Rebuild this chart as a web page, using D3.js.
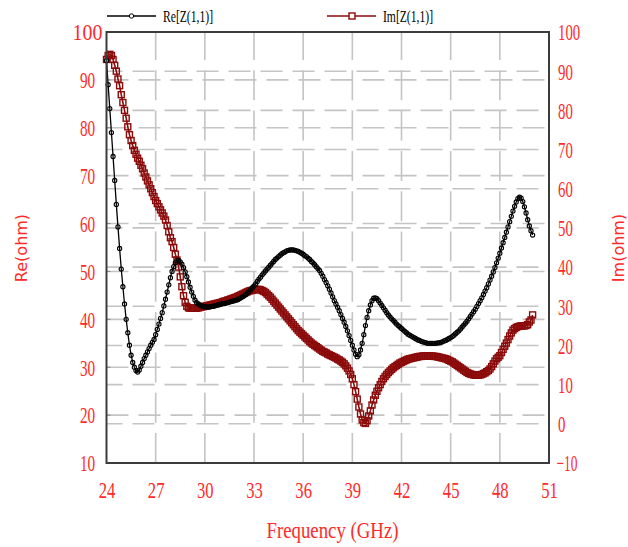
<!DOCTYPE html>
<html>
<head>
<meta charset="utf-8">
<script src="https://cdn.jsdelivr.net/npm/d3@7/dist/d3.min.js"></script>
<style>
  html, body { margin: 0; padding: 0; background: #fff; }
  svg { display: block; }
</style>
</head>
<body>
<svg id="chart" width="628" height="547"></svg>
<script>
// Sweep: 24.0 GHz to 50.0 GHz in 0.1 GHz steps
const freqStart = 24.0;
const freqStep = 0.1;

// Re[Z(1,1)] in ohm (left axis)
const reZ = [
  94, 89, 84, 79, 74, 69, 64, 59.3, 54.8, 50.5,
  46.8, 43.2, 40.0, 37.2, 34.6, 32.5, 31.0, 30.0, 29.3, 29.0,
  29.4, 30.2, 31.0, 31.8, 32.5, 33.2, 33.9, 34.6, 35.2, 35.8,
  36.8, 37.9, 39.0, 40.2, 41.4, 42.8, 44.2, 45.7, 47.2, 48.7,
  50.0, 51.0, 51.8, 52.3, 52.3, 52.0, 51.5, 50.8, 49.9, 48.9,
  47.8, 46.7, 45.7, 44.8, 44.0, 43.5, 43.2, 43.0, 42.8, 42.7,
  42.6, 42.6, 42.6, 42.6, 42.7, 42.7, 42.8, 42.9, 43.0, 43.1,
  43.2, 43.3, 43.3, 43.4, 43.5, 43.6, 43.7, 43.8, 43.9, 44.0,
  44.1, 44.3, 44.5, 44.7, 44.9, 45.2, 45.5, 45.8, 46.2, 46.6,
  47.0, 47.4, 47.9, 48.4, 48.8, 49.3, 49.7, 50.1, 50.5, 50.9,
  51.3, 51.7, 52.1, 52.5, 52.8, 53.1, 53.4, 53.7, 53.9, 54.1,
  54.3, 54.4, 54.5, 54.5, 54.5, 54.4, 54.3, 54.2, 54.0, 53.8,
  53.6, 53.3, 53.1, 52.8, 52.5, 52.1, 51.8, 51.4, 51.0, 50.6,
  50.2, 49.6, 49.0, 48.3, 47.7, 47.0, 46.3, 45.5, 44.7, 43.9,
  43.2, 42.5, 41.8, 41.0, 40.2, 39.4, 38.5, 37.6, 36.6, 35.6,
  34.6, 33.6, 32.7, 32.2, 32.6, 33.6, 35.0, 36.8, 38.7, 40.4,
  41.8, 43.0, 43.9, 44.4, 44.5, 44.3, 43.9, 43.4, 42.9, 42.4,
  41.9, 41.4, 40.9, 40.5, 40.1, 39.8, 39.4, 39.0, 38.7, 38.4,
  38.1, 37.8, 37.5, 37.2, 36.9, 36.7, 36.5, 36.3, 36.1, 35.9,
  35.7, 35.6, 35.4, 35.3, 35.2, 35.1, 35.0, 35.0, 35.0, 35.0,
  35.0, 35.0, 35.1, 35.1, 35.2, 35.3, 35.5, 35.6, 35.8, 36.0,
  36.2, 36.4, 36.7, 37.0, 37.3, 37.6, 38.0, 38.4, 38.8, 39.2,
  39.6, 40.1, 40.6, 41.1, 41.6, 42.1, 42.7, 43.3, 43.9, 44.5,
  45.2, 45.9, 46.6, 47.4, 48.2, 49.0, 49.9, 50.8, 51.8, 52.8,
  53.8, 54.9, 56.0, 57.1, 58.2, 59.3, 60.4, 61.5, 62.6, 63.6,
  64.5, 65.2, 65.5, 65.3, 64.6, 63.5, 62.2, 60.8, 59.5, 58.5,
  57.6
];

// Im[Z(1,1)] in ohm (right axis)
const imZ = [
  93.0, 94.0, 94.3, 94.0, 93.0, 91.5, 90.0, 88.0, 86.3, 84.0,
  82.0, 80.0, 78.0, 75.8, 73.8, 72.3, 71.0, 69.8, 68.8, 67.8,
  67.0, 66.0, 65.1, 64.0, 63.0, 62.0, 61.0, 60.0, 59.0, 58.0,
  57.0, 56.2, 55.4, 54.6, 53.8, 53.0, 52.0, 50.6, 49.0, 47.5,
  46.5, 45.0, 43.3, 41.8, 40.0, 37.5, 35.0, 32.7, 31.0, 30.0,
  29.6, 29.5, 29.5, 29.5, 29.5, 29.5, 29.6, 29.7, 29.8, 29.9,
  30.0, 30.1, 30.2, 30.3, 30.4, 30.5, 30.6, 30.7, 30.8, 30.9,
  31.0, 31.2, 31.3, 31.4, 31.6, 31.7, 31.9, 32.0, 32.2, 32.3,
  32.5, 32.7, 32.9, 33.1, 33.3, 33.5, 33.7, 33.9, 34.0, 34.1,
  34.2, 34.3, 34.3, 34.3, 34.2, 34.0, 33.8, 33.5, 33.1, 32.7,
  32.3, 31.8, 31.3, 30.8, 30.3, 29.8, 29.3, 28.8, 28.3, 27.8,
  27.3, 26.8, 26.3, 25.8, 25.3, 24.8, 24.3, 23.8, 23.4, 23.0,
  22.6, 22.2, 21.8, 21.4, 21.0, 20.6, 20.3, 20.0, 19.7, 19.4,
  19.1, 18.8, 18.5, 18.3, 18.1, 17.8, 17.6, 17.4, 17.2, 17.0,
  16.8, 16.5, 16.3, 16.0, 15.7, 15.3, 14.8, 14.2, 13.5, 12.6,
  11.5, 10.0, 8.2, 6.3, 4.3, 2.5, 1.0, 0.3, 0.1, 0.8,
  2.0, 3.3, 4.8, 6.1, 7.3, 8.3, 9.2, 10.0, 10.8, 11.5,
  12.1, 12.6, 13.1, 13.5, 13.9, 14.3, 14.6, 14.9, 15.2, 15.5,
  15.7, 15.9, 16.1, 16.3, 16.5, 16.6, 16.7, 16.8, 16.9, 17.0,
  17.1, 17.2, 17.2, 17.3, 17.3, 17.3, 17.3, 17.3, 17.3, 17.3,
  17.2, 17.2, 17.1, 17.0, 16.9, 16.8, 16.7, 16.6, 16.4, 16.2,
  16.0, 15.8, 15.5, 15.2, 14.9, 14.6, 14.3, 14.0, 13.7, 13.4,
  13.1, 12.9, 12.7, 12.6, 12.5, 12.4, 12.4, 12.4, 12.5, 12.6,
  12.8, 13.0, 13.3, 13.6, 14.0, 14.6, 15.3, 16.0, 16.6, 17.0,
  17.4, 18.2, 19.0, 19.8, 20.6, 21.5, 22.4, 23.2, 23.9, 24.3,
  24.6, 24.8, 24.9, 25.0, 25.0, 25.0, 25.1, 25.3, 26.0, 26.5,
  27.8
];

// Axis ticks
const freqTicks = [24, 27, 30, 33, 36, 39, 42, 45, 48, 51];
const leftTicks = [10, 20, 30, 40, 50, 60, 70, 80, 90, 100];
const rightTicks = [-10, 0, 10, 20, 30, 40, 50, 60, 70, 80, 90, 100];

const seriesNames = ["Re[Z(1,1)]", "Im[Z(1,1)]"];

const labelRed = "#ff2a2a";
const imColor = "#8b0a0a";
const gridColor = "#c4c4c4";

const svg = d3.select("#chart");
const plot = { left: 106.5, right: 549, top: 32, bottom: 463 };

const x = d3.scaleLinear().domain([24, 51]).range([plot.left, plot.right]);
const yL = d3.scaleLinear().domain([10, 100]).range([plot.bottom, plot.top]);
const yR = d3.scaleLinear().domain([-10, 100]).range([plot.bottom, plot.top]);

const freqs = reZ.map((_, i) => +(freqStart + i * freqStep).toFixed(1));
const reData = freqs.map((f, i) => ({ f, v: reZ[i] }));
const imData = freqs.map((f, i) => ({ f, v: imZ[i] }));

// grid: vertical dashed lines
const grid = svg.append("g").attr("class", "grid")
  .attr("stroke", gridColor).attr("stroke-width", 1.6).attr("fill", "none");

grid.selectAll("line.v")
  .data(freqTicks.slice(1, -1))
  .join("line")
  .attr("x1", d => x(d)).attr("x2", d => x(d))
  .attr("y1", plot.top).attr("y2", plot.bottom)
  .attr("stroke-dasharray", "30,10.3")
  .attr("stroke-dashoffset", 2);

// horizontal dashed lines for the left scale
grid.selectAll("line.hl")
  .data(leftTicks.slice(1, -1))
  .join("line")
  .attr("x1", plot.left).attr("x2", plot.right)
  .attr("y1", d => yL(d)).attr("y2", d => yL(d))
  .attr("stroke-dasharray", "22,10");

// horizontal dashed lines for the right scale
grid.selectAll("line.hr")
  .data(rightTicks.slice(1, -1))
  .join("line")
  .attr("x1", plot.left).attr("x2", plot.right)
  .attr("y1", d => yR(d)).attr("y2", d => yR(d))
  .attr("stroke-dasharray", "22,10")
  .attr("stroke-dashoffset", 6);

// small inner ticks on the left frame
svg.append("g").selectAll("line")
  .data(leftTicks.slice(1, -1))
  .join("line")
  .attr("x1", plot.left).attr("x2", plot.left + 4)
  .attr("y1", d => yL(d)).attr("y2", d => yL(d))
  .attr("stroke", "#888").attr("stroke-width", 1);

// Im curve
const lineIm = d3.line().x(d => x(d.f)).y(d => yR(d.v));
svg.append("path")
  .datum(imData)
  .attr("d", lineIm)
  .attr("fill", "none")
  .attr("stroke", imColor)
  .attr("stroke-width", 1.6);

svg.append("g").selectAll("rect")
  .data(imData)
  .join("rect")
  .attr("x", d => x(d.f) - 3)
  .attr("y", d => yR(d.v) - 3)
  .attr("width", 6).attr("height", 6)
  .attr("fill", "none")
  .attr("stroke", imColor)
  .attr("stroke-width", 1.4);

// Re curve
const lineRe = d3.line().x(d => x(d.f)).y(d => yL(d.v));
svg.append("path")
  .datum(reData)
  .attr("d", lineRe)
  .attr("fill", "none")
  .attr("stroke", "#000")
  .attr("stroke-width", 1.3);

svg.append("g").selectAll("circle")
  .data(reData)
  .join("circle")
  .attr("cx", d => x(d.f))
  .attr("cy", d => yL(d.v))
  .attr("r", 2.1)
  .attr("fill", "none")
  .attr("stroke", "#000")
  .attr("stroke-width", 1.1);

// frame
svg.append("rect")
  .attr("x", plot.left).attr("y", plot.top)
  .attr("width", plot.right - plot.left)
  .attr("height", plot.bottom - plot.top)
  .attr("fill", "none")
  .attr("stroke", "#3c3c3c")
  .attr("stroke-width", 2);

// axes labels
const tickFont = "'Liberation Serif', 'DejaVu Serif', serif";

function styleTicks(g, widthFor) {
  g.select(".domain").remove();
  g.selectAll(".tick line").remove();
  g.selectAll(".tick text")
    .attr("fill", labelRed)
    .attr("font-family", tickFont)
    .attr("font-size", 23)
    .attr("textLength", d => widthFor(d))
    .attr("lengthAdjust", "spacingAndGlyphs");
}

const gBottom = svg.append("g")
  .attr("transform", `translate(0,${plot.bottom})`)
  .call(d3.axisBottom(x).tickValues(freqTicks).tickSize(0).tickFormat(d3.format("d")));
styleTicks(gBottom, d => String(d).length * 8.3);
gBottom.selectAll(".tick text").attr("y", 35).attr("dy", 0).attr("text-anchor", "middle");

const gLeft = svg.append("g")
  .attr("transform", `translate(${plot.left},0)`)
  .call(d3.axisLeft(yL).tickValues(leftTicks).tickSize(0).tickFormat(d3.format("d")));
styleTicks(gLeft, d => d === 100 ? 30 : String(d).length * 7.6);
gLeft.selectAll(".tick text").attr("x", -19).attr("text-anchor", "middle").attr("dy", "0.34em");

const gRight = svg.append("g")
  .attr("transform", `translate(${plot.right},0)`)
  .call(d3.axisRight(yR).tickValues(rightTicks).tickSize(0).tickFormat(d3.format("d")));
styleTicks(gRight, d => d < 0 ? 21 : String(d).length * 7.4);
gRight.selectAll(".tick text").attr("x", d => d < 0 ? 7.5 : 9).attr("text-anchor", "start").attr("dy", "0.34em");

// axis titles
svg.append("text")
  .attr("transform", "translate(27,248) rotate(-90)")
  .attr("text-anchor", "middle")
  .attr("fill", labelRed)
  .attr("font-family", "'DejaVu Sans', sans-serif")
  .attr("font-size", 16)
  .text("Re(ohm)");

svg.append("text")
  .attr("transform", "translate(624,248) rotate(-90)")
  .attr("text-anchor", "middle")
  .attr("fill", labelRed)
  .attr("font-family", "'DejaVu Sans', sans-serif")
  .attr("font-size", 16)
  .text("Im(ohm)");

svg.append("text")
  .attr("x", 332.5).attr("y", 538)
  .attr("text-anchor", "middle")
  .attr("fill", labelRed)
  .attr("font-family", tickFont)
  .attr("font-size", 23)
  .attr("textLength", 132)
  .attr("lengthAdjust", "spacingAndGlyphs")
  .text("Frequency (GHz)");

// legend
const legend = svg.append("g").attr("class", "legend");
const legendItems = [
  { name: seriesNames[0], x0: 107, color: "#000", marker: "circle" },
  { name: seriesNames[1], x0: 327, color: imColor, marker: "square" }
];
const lg = legend.selectAll("g").data(legendItems).join("g")
  .attr("transform", d => `translate(${d.x0},16)`);
lg.append("line")
  .attr("x1", 0).attr("x2", 49).attr("y1", 0).attr("y2", 0)
  .attr("stroke", d => d.color).attr("stroke-width", 1.3);
lg.filter(d => d.marker === "circle").append("circle")
  .attr("cx", 24.5).attr("cy", 0).attr("r", 2.2)
  .attr("fill", "#fff").attr("stroke", "#000").attr("stroke-width", 1);
lg.filter(d => d.marker === "square").append("rect")
  .attr("x", 22).attr("y", -3).attr("width", 6).attr("height", 6)
  .attr("fill", "#fff").attr("stroke", imColor).attr("stroke-width", 1.4);
lg.append("text")
  .attr("x", 56).attr("y", 5.5)
  .attr("fill", "#000")
  .attr("font-family", tickFont)
  .attr("font-size", 17)
  .attr("textLength", 50)
  .attr("lengthAdjust", "spacingAndGlyphs")
  .text(d => d.name);
</script>
</body>
</html>
